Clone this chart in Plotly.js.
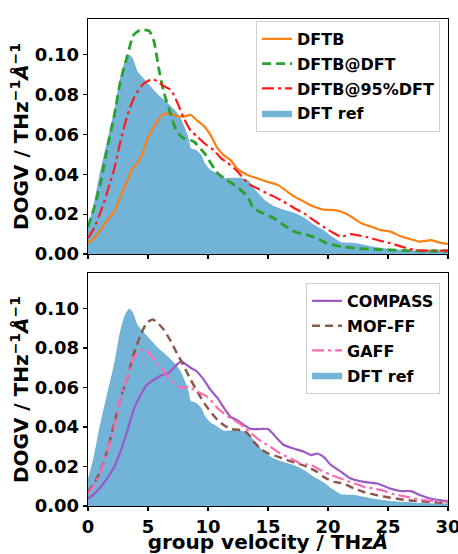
<!DOCTYPE html>
<html>
<head>
<meta charset="utf-8">
<script src="https://cdn.plot.ly/plotly-3.0.1.min.js"></script>
<style>html,body{margin:0;padding:0;background:#fff;}#chart{width:458px;height:554px;}</style>
</head>
<body>
<div id="chart"></div>
<script>
// ---- DFT reference (shown in both panels) ----
const refX = [0, 0.5, 1.0, 1.6, 2.2, 2.7, 3.1, 3.45, 3.7, 4.1, 4.7, 5.2, 5.8, 6.3, 6.9, 7.3, 7.7, 8.3, 8.55, 9.0, 9.4, 9.7, 10.2, 10.5, 11.3, 11.9, 12.7, 13.3, 13.8, 14.7, 15.5, 16.3, 17.2, 18.0, 18.8, 19.7, 20.2, 20.5, 21.1, 22.1, 22.9, 23.8, 25.2, 26.6, 28.1, 30];
const refY = [0.013, 0.0246, 0.040, 0.056, 0.0715, 0.088, 0.0966, 0.0998, 0.098, 0.0916, 0.0874, 0.084, 0.080, 0.0774, 0.074, 0.0715, 0.068, 0.059, 0.053, 0.052, 0.0497, 0.0456, 0.042, 0.041, 0.038, 0.038, 0.038, 0.037, 0.033, 0.027, 0.0238, 0.022, 0.0204, 0.018, 0.0146, 0.0115, 0.009, 0.0079, 0.0057, 0.0054, 0.0045, 0.0034, 0.0023, 0.0017, 0.0012, 0.001];

// ---- top panel ----
const dftbX = [0, 0.5, 1.06, 1.6, 2.2, 2.7, 3.3, 3.7, 4.1, 4.5, 4.9, 5.4, 5.8, 6.3, 6.9, 7.4, 8.0, 8.55, 9.1, 9.7, 10.2, 10.8, 11.3, 11.9, 12.4, 13.3, 14.1, 14.9, 15.8, 16.6, 17.2, 18.0, 18.8, 19.7, 20.5, 21.3, 21.9, 22.8, 23.6, 24.4, 25.2, 26.0, 26.9, 27.7, 28.6, 29.3, 30];
const dftbY = [0.0054, 0.0079, 0.012, 0.017, 0.0213, 0.0288, 0.037, 0.043, 0.0456, 0.050, 0.057, 0.063, 0.067, 0.0703, 0.0703, 0.0693, 0.069, 0.0698, 0.067, 0.064, 0.0598, 0.053, 0.0497, 0.047, 0.043, 0.0397, 0.038, 0.0363, 0.0347, 0.0313, 0.0288, 0.0263, 0.0238, 0.0222, 0.0221, 0.0208, 0.0188, 0.0154, 0.0137, 0.012, 0.0112, 0.009, 0.0074, 0.0062, 0.007, 0.0057, 0.005];

const atDftX = [0, 0.5, 1.06, 1.6, 2.2, 2.7, 3.3, 3.8, 4.4, 5.1, 5.5, 5.9, 6.3, 6.9, 7.4, 8.0, 8.8, 9.7, 10.8, 11.6, 12.4, 13.3, 13.8, 14.6, 15.5, 16.3, 17.2, 18.3, 19.1, 19.9, 21.1, 22.4, 23.8, 25.2, 26.6, 28.1, 30];
const atDftY = [0.0137, 0.023, 0.036, 0.053, 0.070, 0.0866, 0.100, 0.110, 0.1126, 0.112, 0.1067, 0.093, 0.0816, 0.070, 0.0615, 0.058, 0.0565, 0.0506, 0.0405, 0.037, 0.0338, 0.0288, 0.023, 0.0204, 0.0179, 0.0146, 0.0112, 0.0095, 0.0079, 0.0054, 0.0037, 0.0028, 0.0023, 0.002, 0.0017, 0.0015, 0.0015];

const at95X = [0, 0.5, 1.06, 1.6, 2.2, 2.7, 3.3, 3.8, 4.4, 4.9, 5.4, 5.8, 6.3, 6.9, 7.4, 8.0, 8.55, 9.1, 9.7, 10.5, 11.1, 11.6, 12.2, 12.7, 13.3, 14.1, 14.9, 15.5, 16.3, 17.2, 18.0, 18.8, 19.7, 20.5, 21.1, 21.9, 22.4, 23.3, 24.1, 25.2, 26.3, 27.2, 28.0, 29.1, 30];
const at95Y = [0.0079, 0.0129, 0.0213, 0.031, 0.043, 0.0565, 0.070, 0.078, 0.084, 0.0866, 0.0878, 0.0866, 0.0844, 0.0824, 0.0766, 0.068, 0.062, 0.059, 0.0556, 0.052, 0.048, 0.046, 0.043, 0.0397, 0.0355, 0.033, 0.0305, 0.0288, 0.0263, 0.023, 0.0204, 0.017, 0.0133, 0.0104, 0.0087, 0.010, 0.0095, 0.0084, 0.007, 0.0054, 0.0034, 0.002, 0.0017, 0.0017, 0.0017];

// ---- bottom panel ----
const compassX = [0, 0.5, 1.06, 1.6, 2.2, 2.7, 3.3, 3.8, 4.4, 4.9, 5.5, 6.05, 6.6, 7.0, 7.4, 7.8, 8.1, 8.55, 9.1, 9.7, 10.2, 10.8, 11.3, 11.9, 12.4, 13.0, 13.6, 14.4, 15.0, 15.5, 16.3, 17.2, 18.0, 18.6, 19.1, 19.7, 20.2, 21.1, 21.9, 23.0, 24.1, 25.2, 26.0, 26.9, 27.7, 28.6, 29.4, 30];
const compassY = [0.0037, 0.006, 0.0097, 0.014, 0.020, 0.0275, 0.0385, 0.0487, 0.0563, 0.0614, 0.064, 0.066, 0.067, 0.069, 0.0716, 0.0733, 0.072, 0.070, 0.068, 0.0635, 0.0589, 0.0546, 0.050, 0.045, 0.0436, 0.041, 0.039, 0.039, 0.039, 0.036, 0.031, 0.029, 0.0275, 0.0258, 0.0266, 0.0245, 0.021, 0.0173, 0.0139, 0.0122, 0.0114, 0.0088, 0.0076, 0.0075, 0.0054, 0.0037, 0.0029, 0.0024];

const moffX = [0, 0.5, 1.06, 1.6, 2.2, 2.7, 3.3, 3.8, 4.4, 4.9, 5.4, 5.8, 6.3, 6.9, 7.4, 8.0, 8.55, 9.1, 9.7, 10.2, 10.8, 11.3, 11.9, 12.7, 13.3, 13.8, 14.4, 15.0, 15.8, 16.6, 17.5, 18.3, 19.1, 19.7, 20.5, 21.3, 22.2, 23.0, 24.1, 25.2, 26.3, 27.4, 28.6, 30];
const moffY = [0.0071, 0.0114, 0.018, 0.028, 0.042, 0.054, 0.0657, 0.0767, 0.0869, 0.0928, 0.0945, 0.0928, 0.0894, 0.0835, 0.0775, 0.0707, 0.064, 0.058, 0.052, 0.0478, 0.0436, 0.041, 0.039, 0.0385, 0.0368, 0.0326, 0.029, 0.0266, 0.025, 0.0232, 0.0215, 0.0198, 0.0173, 0.0145, 0.0122, 0.0114, 0.0088, 0.0071, 0.0054, 0.0042, 0.0032, 0.0025, 0.002, 0.0015];

const gaffX = [0, 0.5, 1.06, 1.6, 2.2, 2.7, 3.3, 3.8, 4.4, 4.8, 5.2, 5.6, 6.2, 6.75, 7.3, 7.9, 8.4, 8.8, 9.4, 9.9, 10.2, 10.8, 11.3, 11.9, 12.4, 13.0, 13.6, 14.1, 14.7, 15.2, 16.0, 16.9, 17.7, 18.6, 19.4, 20.2, 21.3, 22.2, 23.0, 23.8, 24.7, 25.5, 26.6, 27.7, 28.8, 30];
const gaffY = [0.0063, 0.0105, 0.0173, 0.0275, 0.040, 0.054, 0.0657, 0.075, 0.079, 0.0789, 0.0767, 0.0733, 0.069, 0.0648, 0.0614, 0.0597, 0.0606, 0.0589, 0.057, 0.0555, 0.0538, 0.0495, 0.047, 0.0444, 0.0427, 0.040, 0.0368, 0.0343, 0.0317, 0.030, 0.0266, 0.0241, 0.0215, 0.0207, 0.0181, 0.0158, 0.0134, 0.0114, 0.0097, 0.0088, 0.0076, 0.0059, 0.0046, 0.0032, 0.0025, 0.002];

const xTicks = [0, 5, 10, 15, 20, 25, 30];
const yTicks = [0, 0.02, 0.04, 0.06, 0.08, 0.10];

const FILL = 'rgba(114,179,216,1)';
const FILL_EDGE = '#5fa6d0';

function refTrace(xa, ya, leg) {
  return {x: refX, y: refY, xaxis: xa, yaxis: ya, legend: leg, name: 'DFT ref', legendgroup: leg + 'g4',
    type: 'scatter', mode: 'lines', fill: 'tozeroy', fillcolor: FILL,
    line: {color: FILL_EDGE, width: 0.8, shape: 'spline', smoothing: 0.6}, legendrank: 4};
}
function lineTrace(x, y, xa, ya, leg, name, color, width, dash, rank) {
  return {x: x, y: y, xaxis: xa, yaxis: ya, legend: leg, name: name, legendgroup: leg + 'g' + rank,
    type: 'scatter', mode: 'lines',
    line: {color: color, width: width, dash: dash, shape: 'spline', smoothing: 0.6}, legendrank: rank};
}

const data = [
  refTrace('x', 'y', 'legend'),
  lineTrace(dftbX, dftbY, 'x', 'y', 'legend', 'DFTB', '#ff7f0e', 2.2, 'solid', 1),
  lineTrace(atDftX, atDftY, 'x', 'y', 'legend', 'DFTB@DFT', '#2ca02c', 2.8, '9px,5px', 2),
  lineTrace(at95X, at95Y, 'x', 'y', 'legend', 'DFTB@95%DFT', '#ff1a1a', 2.2, '12px,4px,3px,4px', 3),
  refTrace('x2', 'y2', 'legend2'),
  lineTrace(compassX, compassY, 'x2', 'y2', 'legend2', 'COMPASS', '#9b59c4', 2.2, 'solid', 1),
  lineTrace(moffX, moffY, 'x2', 'y2', 'legend2', 'MOF-FF', '#8c564b', 2.5, '8px,5px', 2),
  lineTrace(gaffX, gaffY, 'x2', 'y2', 'legend2', 'GAFF', '#ff69b4', 2.2, '12px,4px,3px,4px', 3)
];

const tickFont = {family: 'DejaVu Sans', size: 18, color: '#000', weight: 'bold'};
function xaxisCfg(anchor, labels) {
  return {anchor: anchor, range: [0, 30], tickvals: xTicks, ticktext: xTicks.map(String),
    showticklabels: labels, ticks: 'outside', ticklen: 4, tickwidth: 1.2, tickcolor: '#000',
    showline: true, linecolor: '#000', linewidth: 1.3, mirror: true, showgrid: false, zeroline: false,
    tickfont: tickFont, automargin: false, ticklabeloverflow: 'allow'};
}
function yaxisCfg(anchor, domain) {
  return {anchor: anchor, domain: domain, range: [0, 0.118], tickvals: yTicks, tickformat: '.2f',
    ticks: 'outside', ticklen: 4, tickwidth: 1.2, tickcolor: '#000',
    showline: true, linecolor: '#000', linewidth: 1.3, mirror: true, showgrid: false, zeroline: false,
    tickfont: tickFont, automargin: false,
    title: {text: 'DOGV / THz<sup>−1</sup><i>Å</i><sup>−1</sup>', standoff: 0,
      font: {family: 'DejaVu Sans', size: 20, color: '#000', weight: 'bold'}}};
}
const legFont = {family: 'DejaVu Sans', size: 16, color: '#000', weight: 'bold'};

const xa2 = xaxisCfg('y2', true);
xa2.title = {text: 'group velocity / THz<i>Å</i>', standoff: 8,
  font: {family: 'DejaVu Sans', size: 20, color: '#000', weight: 'bold'}};

const legCommon = {xanchor: 'right', yanchor: 'top', font: legFont, traceorder: 'grouped', tracegroupgap: 1,
  bgcolor: 'rgba(255,255,255,0.85)', bordercolor: '#d0d0d0', borderwidth: 1};

const layout = {
  width: 458, height: 554,
  margin: {l: 88, r: 10, t: 19, b: 48},
  paper_bgcolor: '#fff', plot_bgcolor: '#fff',
  font: {family: 'DejaVu Sans', color: '#000', weight: 'bold'},
  showlegend: true,
  xaxis: xaxisCfg('y', false),
  yaxis: yaxisCfg('x', [0.5175, 1]),
  xaxis2: xa2,
  yaxis2: yaxisCfg('x2', [0, 0.4784]),
  legend: Object.assign({x: 0.978, y: 0.996}, legCommon),
  legend2: Object.assign({x: 0.978, y: 0.458}, legCommon)
};

Plotly.newPlot('chart', data, layout, {displayModeBar: false, staticPlot: true});
</script>
</body>
</html>
